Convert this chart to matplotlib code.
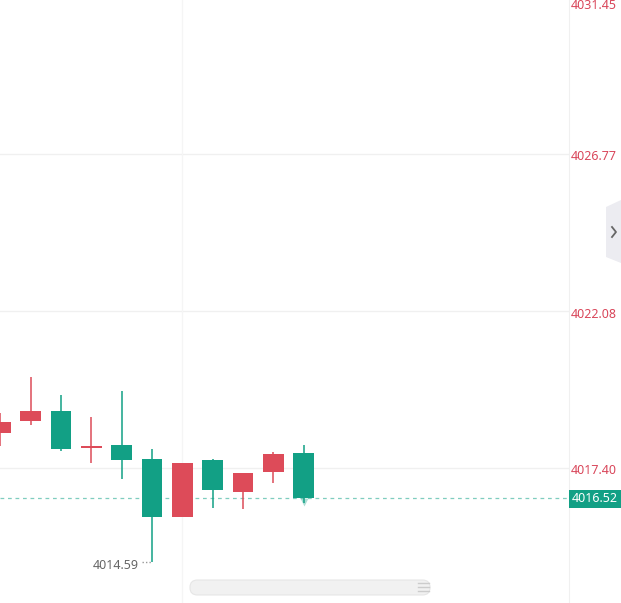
import matplotlib
matplotlib.use("Agg")
import matplotlib.pyplot as plt
import matplotlib.transforms as mtransforms
from matplotlib.patches import Polygon, FancyBboxPatch
import numpy as np

# ---- data ----
idx = list(range(11))
opens  = [4018.45, 4018.80, 4019.10, 4018.00, 4018.09, 4017.67, 4015.95, 4017.64, 4016.69, 4017.29, 4017.85]
highs  = [4019.04, 4020.12, 4019.58, 4018.93, 4019.71, 4017.97, 4017.55, 4017.67, 4017.25, 4017.89, 4018.09]
lows   = [4018.06, 4018.68, 4017.92, 4017.56, 4017.08, 4014.59, 4015.95, 4016.22, 4016.18, 4016.96, 4016.36]
closes = [4018.76, 4019.10, 4017.97, 4018.06, 4017.65, 4015.95, 4017.55, 4016.75, 4017.25, 4017.82, 4016.52]
ytick_values = [4031.45, 4026.77, 4022.08, 4017.40]
ytick_labels = ["4031.45", "4026.77", "4022.08", "4017.40"]
last_price = 4016.52
min_price = 4014.59

UP = "#dd4b59"
DOWN = "#12a085"
W, H = 621, 603
fig = plt.figure(figsize=(W / 100, H / 100), dpi=100)
fig.patch.set_facecolor("white")
ax = fig.add_axes([0, 0, 569 / W, 1])
ax.set_xlim(-0.01, 18.75)
ax.set_ylim(4013.375, 4031.353)
for s in ax.spines.values():
    s.set_visible(False)
ax.spines["right"].set_visible(True)
ax.spines["right"].set_color("#f0f0f0")
ax.set_xticks([])
ax.set_yticks([])

# grid
for v in ytick_values:
    ax.axhline(v, color="#f0f0f0", lw=1, zorder=0)
ax.axvline(6, color="#f5f5f5", lw=1, zorder=0)

# candles
bw = 0.68
for i, o, h, l, c in zip(idx, opens, highs, lows, closes):
    col = UP if c >= o else DOWN
    ax.vlines(i, l, h, color=col, lw=1.1, zorder=2)
    bot = min(o, c)
    ht = max(abs(c - o), 0.06)
    ax.bar(i, ht, bottom=bot, width=bw, color=col, lw=0, zorder=3)

# glow marker under last candle
ax.plot([idx[-1]], [last_price - 0.12], marker="v", ms=6, color=DOWN, alpha=0.35, mec="none", zorder=2)

# current price dashed line
ax.axhline(last_price, color="#7fcdbf", lw=0.9, ls=(0, (3, 3)), zorder=1)

# min label
ax.plot([5 - 0.33, 5], [min_price, min_price], color="#999999", lw=1, ls=(0, (1, 1.5)), zorder=1)
ax.text(4.58, min_price - 0.09, "4014.59", ha="right", va="center", fontsize=9,
        color="#666666", family=["Noto Sans", "DejaVu Sans"])

# y labels on right
for v, lab in zip(ytick_values, ytick_labels):
    dy = -3 if v < 4030 else -9
    trans = mtransforms.offset_copy(ax.get_yaxis_transform(), fig=fig, x=2, y=dy, units="dots")
    ax.text(1.0, v, lab, transform=trans, ha="left", va="center", fontsize=9,
            color="#d9465a", family=["Noto Sans", "DejaVu Sans"], clip_on=False)

# last price box
fig.patches.append(FancyBboxPatch((569 / W, (H - 507.5) / H), 52 / W, 18 / H,
                                  boxstyle="square,pad=0", transform=fig.transFigure,
                                  fc="#12a085", ec="none", zorder=5))
fig.text(572 / W, (H - 498.5) / H, "4016.52", ha="left", va="center", fontsize=9,
         color="white", family=["Noto Sans", "DejaVu Sans"], zorder=6)

# toggle button on right
poly = Polygon([(606 / W, (H - 207) / H), (621 / W, (H - 200) / H), (621 / W, (H - 263) / H),
                (606 / W, (H - 257) / H)], closed=True, transform=fig.transFigure,
               fc="#ececf1", ec="none")
fig.patches.append(poly)
fig.lines.append(plt.Line2D([612 / W, 616 / W, 612 / W], [(H - 227) / H, (H - 232) / H, (H - 237) / H],
                            transform=fig.transFigure, color="#666666", lw=1.3))

# blurred scrollbar at bottom
fig.patches.append(FancyBboxPatch((190 / W, (H - 595) / H), 240 / W, 15 / H,
                                  boxstyle="round,pad=0,rounding_size=0.012",
                                  transform=fig.transFigure, fc="#f0f0f0", ec="#e4e4e4",
                                  lw=0.8, alpha=0.9))
for yy in (583, 587, 591):
    fig.lines.append(plt.Line2D([418 / W, 429 / W], [(H - yy) / H, (H - yy) / H],
                                transform=fig.transFigure, color="#cccccc", lw=1))

fig.savefig("out.png", dpi=100, facecolor="white")
